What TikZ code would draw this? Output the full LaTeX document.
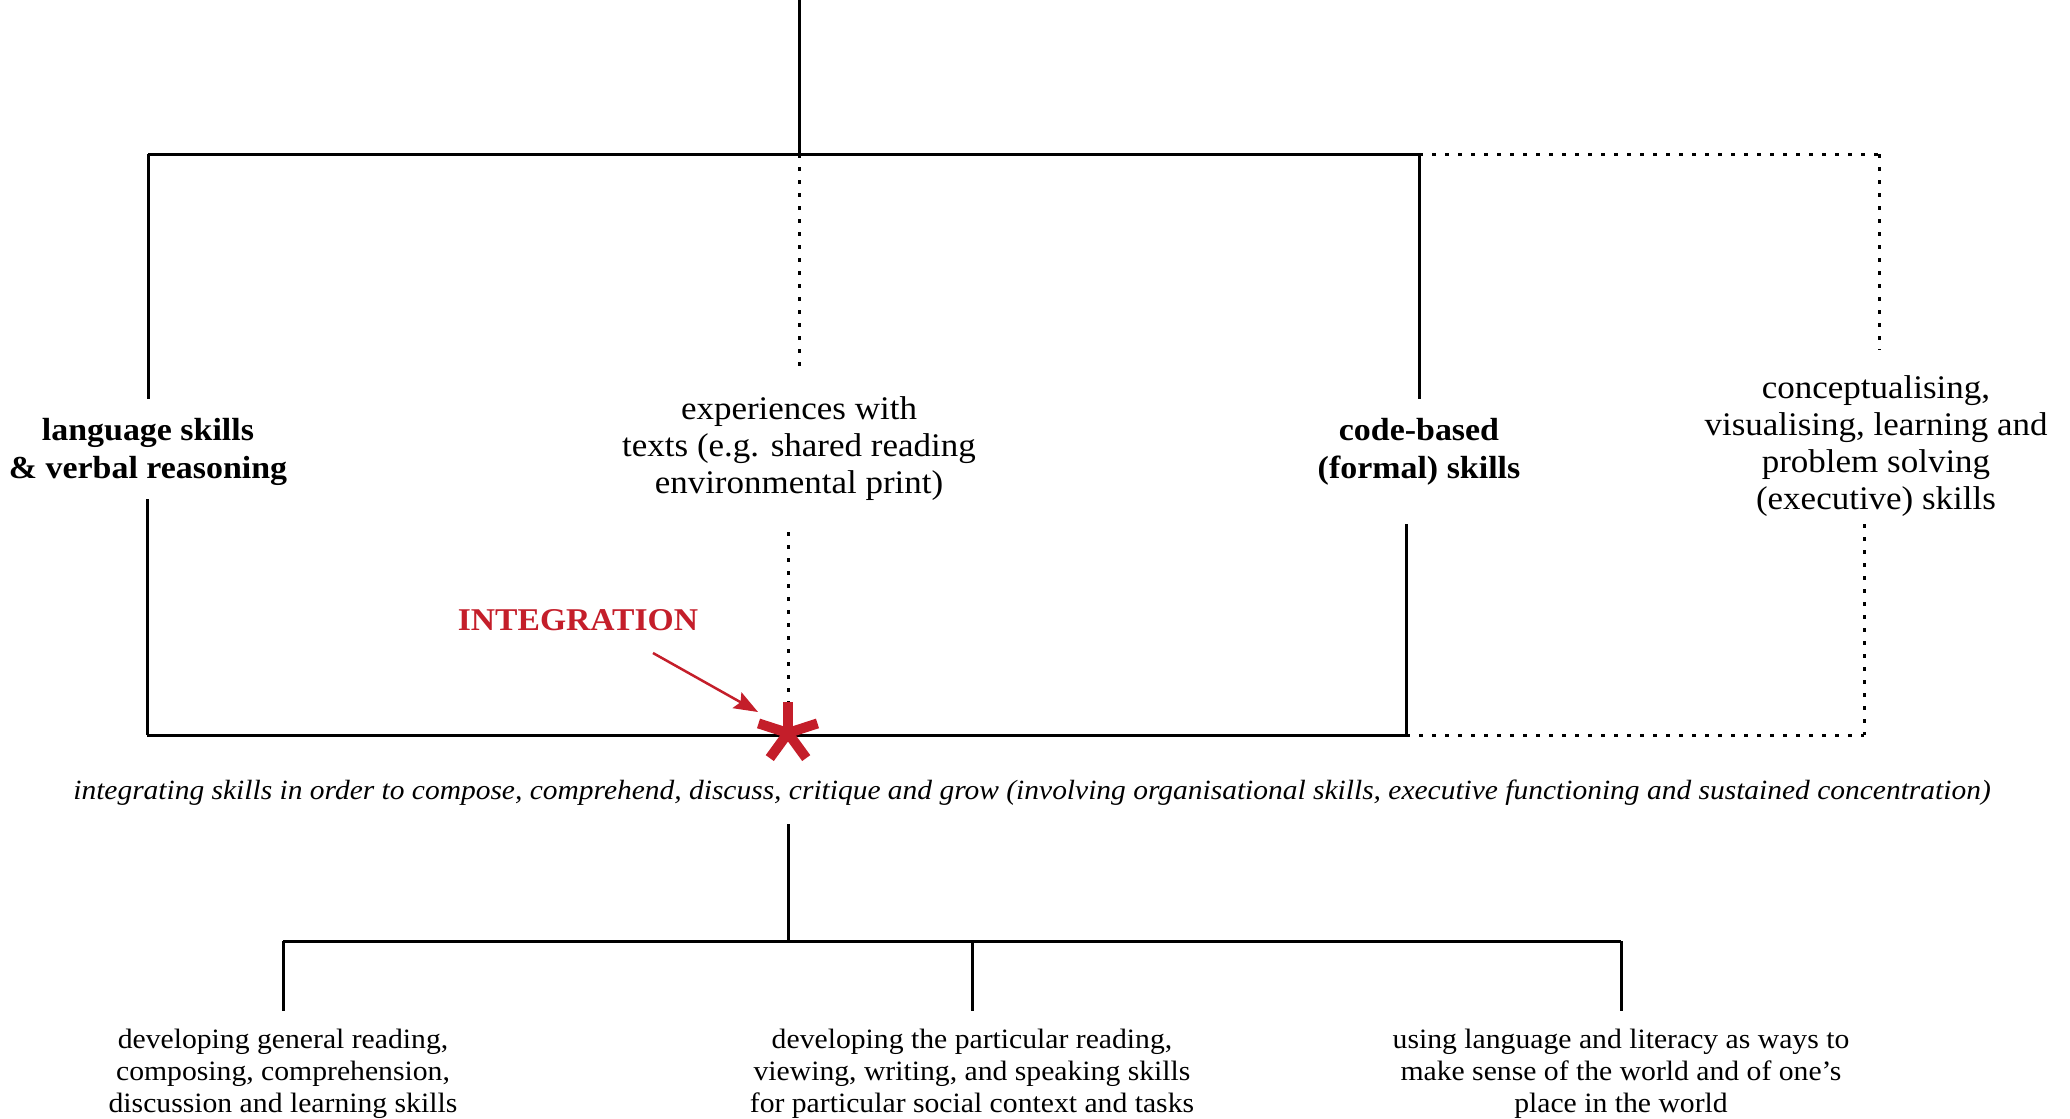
\documentclass[tikz,border=0pt]{standalone}
\usepackage{fontspec}
\setmainfont{Liberation Serif}[FakeStretch=1.06]
\usetikzlibrary{arrows.meta}
\definecolor{intred}{RGB}{196,30,42}
\tikzset{
  solidline/.style={line width=3pt},
  dotline/.style={line width=3pt, dash pattern=on 4pt off 9pt},
  mainlabel/.style={align=center, inner sep=0pt, font=\fontsize{33}{37}\selectfont},
  boldlabel/.style={align=center, inner sep=0pt, font=\fontsize{32}{38}\selectfont\bfseries},
  outcome/.style={align=center, inner sep=0pt, font=\fontsize{28}{32}\selectfont},
}
\begin{document}
\begin{tikzpicture}[x=1pt, y=-1pt]
\useasboundingbox (0,0) rectangle (2070,1119);

% upper branches
\coordinate (root) at (799,0);
\coordinate (rootj) at (799,154);
\coordinate (lt) at (148,154);
\coordinate (ct) at (1419,154);
\coordinate (et) at (1879,154);
\draw[solidline] (root) -- (rootj);
\draw[solidline] (lt) -- (ct);
\draw[dotline] (ct) -- (et);

\node[boldlabel] (lang) at (148,452) {language skills\\\& verbal reasoning};
\node[mainlabel] (exper) at (799,449) {experiences with\\texts (e.g. shared reading\\environmental print)};
\node[boldlabel] (code) at (1419,452) {code-based\\(formal) skills};
\node[mainlabel] (concept) at (1876,446) {conceptualising,\\visualising, learning and\\problem solving\\(executive) skills};

\coordinate (langtop) at (148,399);
\coordinate (expertop) at (799,372);
\coordinate (codetop) at (1419,399);
\coordinate (concepttop) at (1879,350);
\draw[solidline] (lt) -- (langtop);
\draw[dotline] (rootj) -- (expertop);
\draw[solidline] (ct) -- (codetop);
\draw[dotline] (et) -- (concepttop);

% lower branches meeting at the integration point
\coordinate (langbot) at (147,499);
\coordinate (experbot) at (788,532);
\coordinate (codebot) at (1406,524);
\coordinate (conceptbot) at (1864,524);
\coordinate (lb) at (147,735);
\coordinate (mid) at (788,735);
\coordinate (cb) at (1406,735);
\coordinate (eb) at (1864,735);
\coordinate (midend) at (788,723);
\draw[solidline] (langbot) -- (lb);
\draw[dotline] (experbot) -- (midend);
\draw[solidline] (codebot) -- (cb);
\draw[dotline] (conceptbot) -- (eb);
\draw[solidline] (lb) -- (cb);
\draw[dotline] (cb) -- (eb);

% integration mark
\coordinate (star) at (788,733);
\foreach \a in {90,18,162,234,306}
  \draw[intred, line width=10pt] (star) -- ++(-\a:31);
\node[text=intred, inner sep=0pt, font=\fontsize{31.7}{32}\selectfont\bfseries] (integ) at (578,620) {INTEGRATION};
\coordinate (arrstart) at (653,653);
\coordinate (arrend) at (758,712);
\draw[intred, line width=2.5pt, -{Stealth[length=24pt, width=18pt, inset=4pt]}] (arrstart) -- (arrend);

\node[inner sep=0pt, font=\fontsize{27.8}{30}\selectfont\itshape] (integr) at (1032,793) {integrating skills in order to compose, comprehend, discuss, critique and grow (involving organisational skills, executive functioning and sustained concentration)};

% outcomes
\coordinate (ot) at (788,824);
\coordinate (oj) at (788,941);
\coordinate (o1) at (283,941);
\coordinate (o2) at (972,941);
\coordinate (o3) at (1621,941);
\draw[solidline] (ot) -- (oj);
\draw[solidline] (o1) -- (o3);
\foreach \p in {o1,o2,o3}
  \draw[solidline] (\p) -- ++(0,70);

\node[outcome] (out1) at (283,1074) {developing general reading,\\composing, comprehension,\\discussion and learning skills};
\node[outcome] (out2) at (972,1074) {developing the particular reading,\\viewing, writing, and speaking skills\\for particular social context and tasks};
\node[outcome] (out3) at (1621,1074) {using language and literacy as ways to\\make sense of the world and of one's\\place in the world};
\end{tikzpicture}
\end{document}
